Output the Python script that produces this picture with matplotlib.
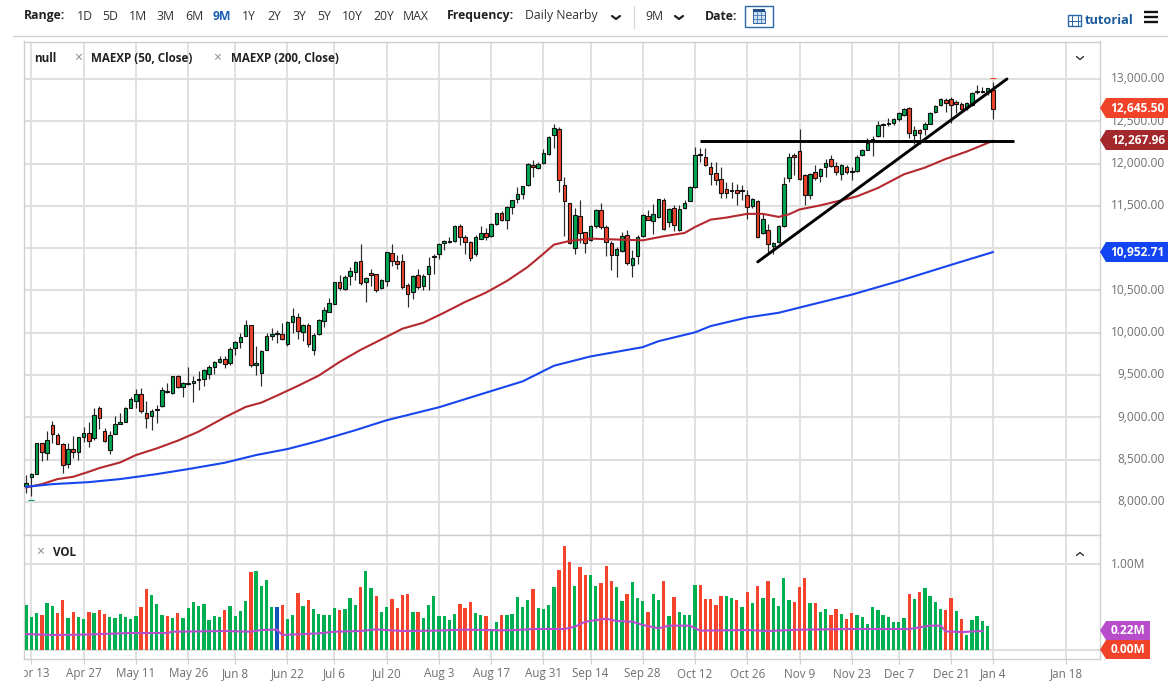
import matplotlib
matplotlib.use("Agg")
import matplotlib.pyplot as plt
from matplotlib.patches import Polygon, Rectangle
import numpy as np

plt.rcParams['font.family'] = ['Open Sans', 'Noto Sans', 'DejaVu Sans']

# ---------- data ----------
opens = [8186,8289,8332,8699,8573,8905,8794,8688,8443,8628,8585,8763,8810,8751,9106,8842,8616,8802,8925,8944,
         9114,9193,9280,9047,9011,9086,9130,9300,9288,9493,9359,9395,9410,9438,9454,9517,9592,9655,9683,9643,
         9817,9888,9959,10090,9616,9529,9801,9955,9979,9987,9865,10121,10185,10011,10090,9790,9987,10138,10249,10343,
         10600,10513,10675,10723,10849,10596,10707,10691,10529,10616,10948,10849,10849,10561,10486,10679,10553,10699,10908,10932,
         11058,11078,11090,11264,11137,11074,10928,11110,11177,11145,11284,11418,11327,11481,11580,11639,11742,11987,11951,12003,
         12113,12334,12413,11746,11528,11003,11378,11185,11094,11258,11448,11254,11061,10915,10962,11152,10800,10911,11144,11385,
         11322,11369,11566,11306,11472,11215,11472,11559,11721,12096,12080,11954,11894,11815,11697,11681,11685,11673,11634,11495,
         11559,11183,11211,11025,11073,11262,11835,12096,12146,11861,11632,11901,11853,11956,12059,11968,11873,11960,11905,11913,
         12098,12165,12280,12331,12450,12470,12485,12521,12576,12659,12339,12394,12406,12470,12604,12687,12754,12762,12718,12710,
         12655,12691,12845,12861,12845,12868]
highs = [8316,8336,8695,8699,8838,8956,8810,8692,8691,8778,8770,8889,8940,9114,9134,8869,8838,9015,9055,9118,
         9237,9335,9343,9193,9094,9142,9355,9402,9490,9501,9422,9600,9489,9541,9572,9612,9667,9726,9726,9825,
         9896,9995,10153,10095,9845,9797,9995,10054,10034,10113,10133,10291,10232,10106,10113,9995,10161,10304,10415,10604,
         10687,10687,10778,10849,11054,10659,10758,10699,10632,10955,11054,10916,10936,10588,10679,10750,10691,10893,10928,11066,
         11094,11133,11272,11280,11153,11086,11153,11260,11232,11295,11414,11442,11497,11568,11726,11738,12003,12042,12014,12168,
         12326,12469,12437,11844,11536,11469,11568,11193,11272,11464,11535,11270,11081,11013,11191,11219,10974,11152,11401,11448,
         11519,11586,11598,11480,11507,11507,11574,11732,12198,12179,12179,12021,12021,11954,11784,11784,11764,11744,11693,11598,
         11567,11408,11282,11073,11278,11843,12120,12120,12406,11873,11889,11980,11948,12059,12098,12019,11999,11988,11960,12098,
         12177,12308,12323,12505,12474,12533,12541,12608,12651,12667,12442,12414,12493,12612,12691,12770,12778,12782,12750,12730,
         12730,12849,12928,12908,12896,12967]
lows = [8099,8071,8325,8486,8494,8691,8684,8344,8395,8514,8494,8711,8652,8731,8857,8711,8561,8798,8921,8940,
        9106,9114,9047,8877,8849,8936,9118,9284,9280,9347,9244,9383,9177,9323,9375,9454,9513,9647,9580,9612,
        9738,9817,9955,9600,9501,9375,9790,9916,9876,9916,9845,9995,9928,9896,9829,9738,9975,10067,10245,10336,
        10501,10501,10561,10620,10561,10359,10553,10478,10521,10549,10790,10758,10521,10304,10403,10521,10509,10501,10699,10877,
        10983,11062,11074,11035,10936,10849,10904,11102,11094,11137,11276,11323,11224,11398,11528,11580,11734,11837,11931,11995,
        12101,12180,11667,11145,11047,10936,11062,10944,11086,11243,11231,10907,10745,10658,10954,10796,10658,10808,11136,11329,
        11164,11361,11211,11250,11203,11207,11464,11555,11705,12021,11969,11744,11744,11598,11598,11594,11515,11566,11345,11480,
        11124,11171,10942,10934,11065,11250,11776,11863,11810,11506,11577,11802,11782,11841,11960,11861,11802,11881,11810,11901,
        12086,12157,12090,12315,12315,12446,12454,12505,12564,12308,12236,12236,12335,12462,12592,12679,12612,12474,12600,12631,
        12639,12679,12817,12829,12809,12525]
closes = [8225,8324,8691,8589,8731,8806,8688,8431,8628,8589,8767,8818,8715,9031,8988,8715,8790,8921,8948,9106,
          9217,9276,9075,8992,9079,9094,9323,9316,9485,9355,9402,9402,9434,9458,9557,9592,9651,9683,9628,9805,
          9884,9952,10090,9616,9647,9786,9959,9983,9983,9924,10125,10196,10015,10090,9869,9975,10145,10264,10355,10596,
          10529,10659,10727,10837,10592,10644,10679,10509,10620,10952,10853,10810,10545,10458,10671,10537,10675,10794,10893,11043,
          11086,11090,11264,11126,11070,10881,11126,11173,11137,11288,11410,11331,11481,11564,11635,11730,11995,11955,11999,12121,
          12318,12417,11805,11552,11058,11390,11181,11062,11264,11452,11254,11073,10923,10986,11144,10824,10887,11132,11393,11333,
          11405,11578,11223,11468,11270,11468,11539,11724,12100,12104,11977,11875,11800,11653,11657,11693,11653,11677,11491,11586,
          11132,11341,11045,11065,11266,11764,12076,12080,11822,11624,11881,11826,11932,12007,11976,11901,11984,11901,11897,12078,
          12157,12244,12288,12454,12458,12477,12529,12600,12643,12367,12402,12367,12462,12600,12675,12758,12714,12691,12710,12647,
          12714,12837,12849,12841,12888,12645.5]

ema50_idx = [0,3,6,9,12,14,18,21,25,29,33,38,42,45,48,52,56,60,64,68,72,76,80,84,88,92,96,99,101,104,108,112,118,122,126,
             128,131,134,138,141,144,146,148,152,156,159,163,168,172,176,180,185]
ema50_val = [8170,8209,8269,8296,8356,8399,8466,8553,8632,8723,8830,8999,9122,9173,9256,9371,9493,9655,9797,9921,10047,10118,
             10237,10363,10474,10612,10778,10934,11041,11085,11112,11104,11092,11140,11179,11250,11337,11361,11405,11405,11369,
             11400,11457,11506,11565,11612,11711,11873,11952,12055,12142,12267.96]
ema200_idx = [0,5,12,18,25,31,38,44,50,56,63,69,79,89,95,101,108,118,121,128,131,138,144,148,158,167,177,185]
ema200_val = [8178,8209,8233,8269,8328,8387,8462,8553,8624,8720,8847,8965,9118,9310,9424,9609,9719,9829,9899,10004,10078,
              10180,10235,10297,10450,10610,10802,10952.71]

volumes = [521,386,429,405,541,510,429,579,375,436,382,355,440,432,463,413,382,367,413,386,363,398,498,703,637,533,402,394,375,
           429,367,486,560,510,529,347,394,378,463,514,398,448,568,907,915,741,811,502,502,517,355,405,660,514,575,479,421,405,
           405,486,467,479,606,525,734,915,714,625,440,498,587,486,
           637,649,444,440,367,517,625,390,394,347,417,529,483,556,429,409,394,239,324,409,402,413,614,494,575,707,486,479,517,
           726,931,1205,1023,741,958,869,865,737,772,969,795,726,571,653,784,598,568,440,645,575,803,398,610,440,405,405,753,753,
           595,595,525,622,622,598,579,498,668,548,745,602,799,602,510,838,575,552,726,
           830,544,548,440,471,402,475,421,359,425,402,386,297,494,463,402,378,324,328,371,649,587,672,714,622,556,471,459,602,
           452,359,174,347,394,336,278,0]
vol_dirs = ("GGGRGGRRGRGGRGRRGGGGGGRRGGGRGRGGGGGGGGRGGGGRGGGGBRGGRGRGGGGGRGGGRGGRGGRR"[:72]
            + "RRGRGGGGGGGRRRGGRGGRGGGGGRGGGGRRRGRRGGRRRGGRGGGRGGRGRGGGGRRRRRGGRGRGRGRGGGGRR"[:77]
            + "RGRGGRRGRRGGGGGGGGGGRGRGGGGRRGRGGGGGG")
volma_idx = [0,5,11,20,27,28,33,38,43,45,48,49,56,59,64,67,72,78,84,91,94,97,103,105,107,111,113,116,118,121,123,127,129,138,
             142,148,158,169,173,175,176,179,183]
volma_val = [185,174,178,197,197,212,216,220,212,232,236,174,193,212,220,239,220,224,236,228,232,243,243,270,328,363,336,328,
             290,251,282,282,224,232,220,236,243,243,282,282,216,208,220]

date_idx = [1,11,21,31,40,50,59,69,79,89,99,108,118,128,138,148,158,167,177,185,199]
date_labels = ["Apr 13","Apr 27","May 11","May 26","Jun 8","Jun 22","Jul 6","Jul 20","Aug 3","Aug 17","Aug 31","Sep 14",
               "Sep 28","Oct 12","Oct 26","Nov 9","Nov 23","Dec 7","Dec 21","Jan 4","Jan 18"]
price_ticks = [8000,8500,9000,9500,10000,10500,11000,11500,12000,12500,13000]
hidden_price_labels = [11000]
support_idx = [129,189]
support_val = [12261,12261]
trend_idx = [140,187.7]
trend_val = [10837,13000]
range_labels = ["1D","5D","1M","3M","6M","9M","1Y","2Y","3Y","5Y","10Y","20Y","MAX"]
range_lefts = [77,102,129,156,185,213,242,267,292,317,342,373,403]

assert len(opens)==len(highs)==len(lows)==len(closes)==186
assert len(volumes)==186
assert len(ema50_idx)==len(ema50_val) and len(ema200_idx)==len(ema200_val) and len(volma_idx)==len(volma_val)

# ---------- styles ----------
W, H = 1168, 687
GREEN, RED, BLUE = "#00a651", "#f0432a", "#1155bb"
VGREEN, VRED = "#00b050", "#f4452c"
GRID = "#dfdfdf"
TXT = "#6f6f6f"

fig = plt.figure(figsize=(W/100, H/100), dpi=100, facecolor="white")
def px_axes(x0, y0, x1, y1):
    return fig.add_axes([x0/W, 1-y1/H, (x1-x0)/W, (y1-y0)/H])

PX = 5.225; X0 = 26.2
def xlim_for(l, r):
    return ((l-X0)/PX, (r-X0)/PX)

# ---------- main panel ----------
ax = px_axes(23.5, 41.5, 1100, 535)
ax.set_xlim(*xlim_for(23.5, 1100))
ax.set_ylim(8000-(535-501.8)*11.82, 13000+(79-41.5)*11.82)
for s in ax.spines.values():
    s.set_color("#cfcfcf"); s.set_linewidth(1)
ax.set_yticks(price_ticks)
ax.set_xticks(date_idx)
ax.tick_params(length=0, labelleft=False, labelbottom=False)
ax.grid(True, axis="y", color=GRID, lw=1.5)
ax.grid(True, axis="x", color="#d8d8d8", lw=1.1)
ax.set_axisbelow(True)

xs = np.arange(len(opens))
ax.vlines(xs, lows, highs, color="#2b2b2b", lw=0.85, zorder=2)
cols = [GREEN if c >= o else RED for o, c in zip(opens, closes)]
bot = [min(o, c) for o, c in zip(opens, closes)]
hgt = [max(abs(c-o), 12) for o, c in zip(opens, closes)]
ax.bar(xs, hgt, bottom=bot, width=0.68, color=cols, edgecolor="#111111", linewidth=0.8, zorder=3)
ax.plot(ema50_idx, ema50_val, color="#b3292e", lw=1.5, zorder=4, solid_joinstyle="round")
ax.plot(ema200_idx, ema200_val, color="#1846ee", lw=1.5, zorder=4, solid_joinstyle="round")
ax.plot(support_idx, support_val, color="black", lw=2.1, zorder=5, solid_capstyle="butt")
ax.plot(trend_idx, trend_val, color="black", lw=2.1, zorder=5, solid_capstyle="round")
ax.plot([185], [13015], marker="_", ms=4, mew=0.8, color="#f0432a", zorder=5)
ax.plot([1], [8025], marker="_", ms=4, mew=0.8, color="#00a651", zorder=5)

# ---------- volume panel ----------
av = px_axes(23.5, 535, 1100, 659)
av.set_xlim(*xlim_for(23.5, 1100))
vscale = 1000/86.3
av.set_ylim(-9*vscale, (650-535)*vscale)
for s in av.spines.values():
    s.set_color("#cfcfcf"); s.set_linewidth(1)
av.set_yticks([0, 1000])
av.set_xticks(date_idx)
av.tick_params(axis="y", length=0, labelleft=False)
av.tick_params(axis="x", length=3.5, color="#cfcfcf", labelbottom=False)
av.grid(True, axis="y", color=GRID, lw=1.5)
av.grid(True, axis="x", color="#d8d8d8", lw=1.1)
av.set_axisbelow(True)
vc = {"G": VGREEN, "R": VRED, "B": BLUE}
av.bar(xs[:len(volumes)], volumes, width=0.64, color=[vc[d] for d in vol_dirs[:len(volumes)]], zorder=3)
av.plot(volma_idx, volma_val, color="#b84dcc", lw=1.5, zorder=4)

# ---------- overlay in pixel coordinates ----------
ui = fig.add_axes([0, 0, 1, 1], zorder=10)
ui.set_xlim(0, W); ui.set_ylim(H, 0); ui.axis("off"); ui.patch.set_alpha(0)

def T(x, y, s, size=9, color="#222222", weight="normal", ha="left"):
    ui.text(x, y, s, fontsize=size, color=color, fontweight=weight, ha=ha, va="center")

# date labels, first clipped by the left margin
for i, lab in zip(date_idx, date_labels):
    T(X0+PX*i, 674, lab, size=8.4, color=TXT, ha="center")
ui.add_patch(Rectangle((0, 664), 23, 22, color="white", zorder=5))

# price labels and tags
for p in price_ticks:
    if p in hidden_price_labels:
        continue
    y = 501.8-(p-8000)/11.82
    T(1165, y, f"{p:,.2f}", size=8.6, color=TXT, ha="right")
T(1145, 564, "1.00M", size=8.6, color=TXT, ha="right")

def tag(yc, text, color, hh=10, right=1168):
    ui.add_patch(Polygon([(1100, yc), (1106, yc-hh), (right, yc-hh), (right, yc+hh), (1106, yc+hh)],
                         closed=True, color=color, zorder=6, lw=0))
    ui.text(1165 if right == 1168 else 1145, yc, text, color="white", fontsize=8.6, fontweight="bold",
            ha="right", va="center", zorder=7)
tag(108, "12,645.50", "#f0432a")
tag(140, "12,267.96", "#a3282c")
tag(252, "10,952.71", "#1445f2")
tag(630.5, "0.22M", "#b84dcc", hh=9.5, right=1150)
tag(649.5, "0.00M", "#f0432a", hh=9.5, right=1150)

# toolbar
T(24, 16, "Range:", size=8.8, weight="bold")
for lab, x in zip(range_labels, range_lefts):
    if lab == "9M":
        T(x, 16, lab, size=8.8, color="#1a5fb4", weight="bold")
    else:
        T(x, 16, lab, size=8.8, color="#333333")
T(447, 16, "Frequency:", size=8.8, weight="bold")
T(525, 16, "Daily Nearby", size=8.8, color="#333333")
T(645, 16, "9M", size=8.8, color="#333333")
T(705, 16, "Date:", size=8.8, weight="bold")
T(1085, 20, "tutorial", size=9.2, color="#1a5a9c", weight="bold")

def chev(x, y, up=False, w=4, h=3, lw=1.6, color="#222222"):
    d = -h if up else h
    ui.plot([x-w, x, x+w], [y-d/2, y+d/2, y-d/2], color=color, lw=lw, solid_capstyle="round")
chev(616, 17.5); chev(679, 17.5)
chev(1080, 58, w=3.5, h=3, lw=0.9); chev(1080, 554, up=True, w=3.5, h=3, lw=0.9)
ui.plot([634, 634], [6, 28], color="#d5d5d5", lw=0.8)
ui.plot([13, 1168], [35.5, 35.5], color="#d0d0d0", lw=1)

# calendar button
ui.add_patch(Rectangle((745, 6), 28, 21, fill=False, edgecolor="#2a66a8", lw=1))
ui.add_patch(Rectangle((753, 11), 12, 12, facecolor="#cfe0f2", edgecolor="#2a66a8", lw=0.7))
for gx in (757, 761):
    ui.plot([gx, gx], [11, 23], color="#2a66a8", lw=0.5)
for gy in (15, 19):
    ui.plot([753, 765], [gy, gy], color="#2a66a8", lw=0.5)
ui.add_patch(Rectangle((753, 9), 12, 3, color="#1f4e85", lw=0))

# tutorial icon and menu
ui.add_patch(Rectangle((1068, 15), 13, 11, fill=False, edgecolor="#2a66a8", lw=1))
for gx in (1071.5, 1077.5):
    ui.plot([gx, gx], [15, 26], color="#2a66a8", lw=0.7)
ui.plot([1068, 1081], [20.5, 20.5], color="#2a66a8", lw=0.7)
for gy in (11.5, 16.5, 21.5):
    ui.plot([1144, 1158], [gy, gy], color="#111111", lw=1.7, solid_capstyle="butt")

# legends
T(34, 58, "null", size=8.4, weight="bold")
T(78, 58, "×", size=10, color="#8a8a8a", ha="center")
T(91, 58, "MAEXP (50, Close)", size=8.4, weight="bold")
T(217, 58, "×", size=10, color="#8a8a8a", ha="center")
T(231, 58, "MAEXP (200, Close)", size=8.4, weight="bold")
T(40, 552, "×", size=10, color="#8a8a8a", ha="center")
T(53, 552, "VOL", size=8.4, weight="bold")

fig.savefig("out.png", dpi=100, facecolor="white")
